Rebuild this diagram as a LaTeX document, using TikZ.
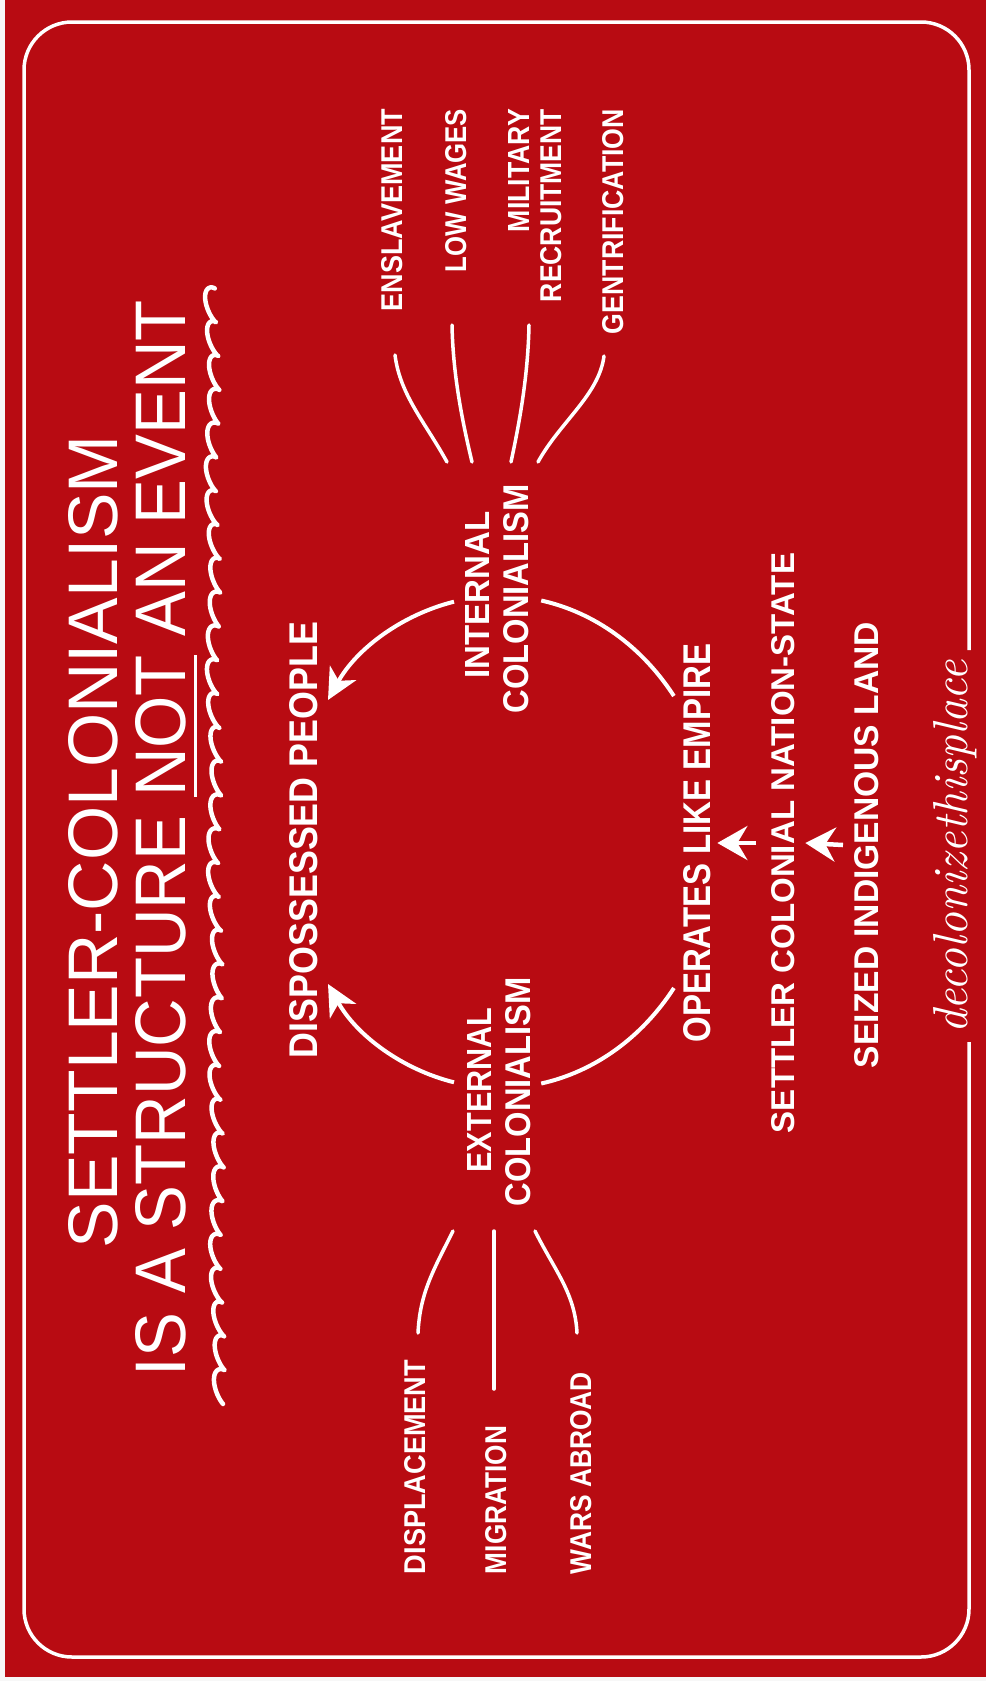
\documentclass[tikz,border=0pt]{standalone}
\usepackage{graphicx}
\usepackage{fontspec}
\newfontfamily\sansf{Liberation Sans}
\usetikzlibrary{arrows.meta}
\definecolor{bgred}{RGB}{184,11,18}
\newcommand{\fitbox}[3]{\resizebox{#1pt}{#2pt}{#3}}
\tikzset{
  lab/.style={rotate=90, inner sep=0pt, outer sep=0pt, text=white, font=\sansf\bfseries},
  ttl/.style={rotate=90, inner sep=0pt, outer sep=0pt, text=white, font=\sansf},
  wline/.style={draw=white, line width=3.5pt, line cap=round},
  ringarc/.style={draw=white, line width=4pt},
  bigarr/.style={-{Stealth[length=31pt,width=30pt,inset=9pt]}},
  smallarr/.style={draw=white, line width=4.5pt, -{Stealth[length=30pt,width=34pt,inset=10pt]}},
}
\begin{document}
\begin{tikzpicture}[x=1pt,y=-1pt]
\useasboundingbox (0,0) rectangle (986,1681);
\fill[bgred] (0,0) rectangle (986,1681);
\fill[white!94!gray] (0,0) rectangle (5,1681);
\fill[white!94!gray] (0,1677) rectangle (986,1681);

% frame with gap for signature
\draw[white, line width=3.5pt, rounded corners=48pt]
  (969,1042) -- (969,1657) -- (24,1657) -- (24,22) -- (969,22) -- (969,650);
\node[rotate=90, inner sep=0pt, text=white, anchor=base west] (sig) at (967,1034)
  {\fitbox{374}{34}{\itshape decolonizethisplace}};

% title
\node[ttl, anchor=base west] (t1) at (117,1248) {\fitbox{813}{49}{SETTLER-COLONIALISM}};
\node[ttl, anchor=base west] (t2) at (185,1376) {\fitbox{1076}{50}{IS A STRUCTURE \underline{NOT} AN EVENT}};

% squiggle
\draw[white, line width=4.5pt, line cap=round, line join=round]
  plot[domain=0:207.3, samples=1000, variable=\t]
  ({223 - 0.03*\t + 2*sin(\t*10) - 5*(1-cos(\t r))}, {1404 - 5.38*(\t - sin(\t r)) - 4*(1-cos(\t r))});

% central labels
\node[lab, anchor=base] (disp) at (317,840) {\fitbox{436}{28}{DISPOSSESSED PEOPLE}};
\node[lab, anchor=base] (int1) at (489,595) {\fitbox{167}{24}{INTERNAL}};
\node[lab, anchor=base] (int2) at (528,599) {\fitbox{229}{25}{COLONIALISM}};
\node[lab, anchor=base] (ext1) at (491,1090) {\fitbox{165}{24}{EXTERNAL}};
\node[lab, anchor=base] (ext2) at (530,1092) {\fitbox{229}{25}{COLONIALISM}};
\node[lab, anchor=base] (oper) at (710,843) {\fitbox{399}{27}{OPERATES LIKE EMPIRE}};
\node[lab, anchor=base] (settler) at (794,843) {\fitbox{580}{23}{SETTLER COLONIAL NATION-STATE}};
\node[lab, anchor=base] (seized) at (878,845) {\fitbox{446}{24}{SEIZED INDIGENOUS LAND}};

% right-hand labels
\node[lab, anchor=base east] (ensl) at (402,109) {\fitbox{202}{21}{ENSLAVEMENT}};
\node[lab, anchor=base east] (loww) at (466,109) {\fitbox{163}{21}{LOW WAGES}};
\node[lab, anchor=base east] (mil1) at (529,109) {\fitbox{123}{21}{MILITARY}};
\node[lab, anchor=base east] (mil2) at (561,109) {\fitbox{193}{21}{RECRUITMENT}};
\node[lab, anchor=base east] (gent) at (623,109) {\fitbox{225}{21}{GENTRIFICATION}};

% left-hand labels
\node[lab, anchor=base west] (displ) at (425,1574) {\fitbox{214}{21}{DISPLACEMENT}};
\node[lab, anchor=base west] (migr) at (506,1574) {\fitbox{148}{21}{MIGRATION}};
\node[lab, anchor=base west] (wars) at (591,1574) {\fitbox{202}{21}{WARS ABROAD}};

% connector end points
\coordinate (ensA) at (395,355);  \coordinate (ensB) at (447,462);
\coordinate (lowA) at (452,325);  \coordinate (lowB) at (472,462);
\coordinate (milA) at (529,325);  \coordinate (milB) at (511,462);
\coordinate (genA) at (604,356);  \coordinate (genB) at (538,462);
\coordinate (dplA) at (453,1231); \coordinate (dplB) at (418,1333);
\coordinate (migA) at (494,1231); \coordinate (migB) at (494,1389);
\coordinate (warA) at (535,1231); \coordinate (warB) at (577,1333);

\draw[wline] (ensA) .. controls (400,395) and (425,422) .. (ensB);
\draw[wline] (lowA) .. controls (453,375) and (462,420) .. (lowB);
\draw[wline] (milA) .. controls (528,375) and (520,420) .. (milB);
\draw[wline] (genA) .. controls (599,395) and (560,422) .. (genB);
\draw[wline] (dplA) .. controls (433,1271) and (420,1293) .. (dplB);
\draw[wline] (migA) -- (migB);
\draw[wline] (warA) .. controls (555,1271) and (575,1293) .. (warB);

% ring arcs
\coordinate (r1a) at (454,601.7);  \coordinate (r1b) at (328,700);
\coordinate (r2a) at (454,1082.3); \coordinate (r2b) at (328,984);
\coordinate (r3a) at (541.2,600.5);  \coordinate (r3b) at (673.9,696);
\coordinate (r4a) at (541.2,1083.5); \coordinate (r4b) at (673.9,988);
\draw[ringarc, bigarr] (r1a) .. controls (402.2,614.6) and (356.5,648.6) .. (r1b);
\draw[ringarc, bigarr] (r2a) .. controls (402.2,1069.4) and (356.5,1035.4) .. (r2b);
\draw[ringarc] (r3a) .. controls (594.4,612.3) and (641.7,646.3) .. (r3b);
\draw[ringarc] (r4a) .. controls (594.4,1071.7) and (641.7,1037.7) .. (r4b);

% small arrows
\draw[smallarr] ([xshift=-15pt]settler.north) -- ([xshift=7pt]oper.south);
\draw[smallarr] ([xshift=-11pt]seized.north) -- ([xshift=11pt]settler.south);
\end{tikzpicture}
\end{document}
